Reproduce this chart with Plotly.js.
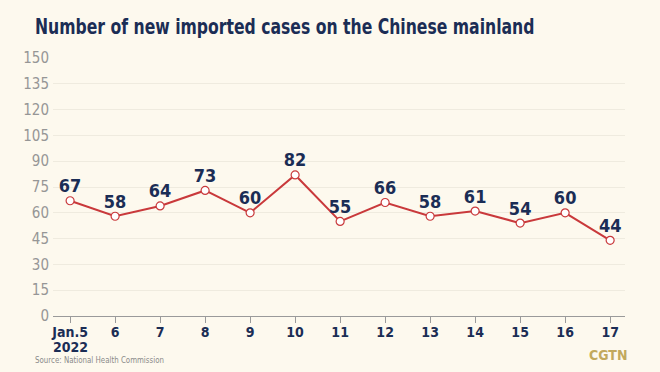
<!DOCTYPE html>
<html><head><meta charset="utf-8">
<script src="https://cdn.plot.ly/plotly-3.0.1.min.js"></script>
<style>html,body{margin:0;padding:0;background:#fdf9ee;}#chart{width:660px;height:372px;}</style>
</head><body><div id="chart"></div>
<script>
const categories = ["Jan.5","6","7","8","9","10","11","12","13","14","15","16","17"];
const yearLabel = "2022";
const newImportedCases = [67,58,64,73,60,82,55,66,58,61,54,60,44];
const yTickValues = [0,15,30,45,60,75,90,105,120,135,150];

const xIdx = categories.map((c,i)=>i);
const navy = "#1b2d55";
const cond = "'DejaVu Sans Condensed', sans-serif";
const PL = 53, PR = 625, PT = 58, PB = 316;
const px = v => (v - PL) / (PR - PL);
const py = v => (PB - v) / (PB - PT);
const trace = {
  x: xIdx, y: newImportedCases, type: "scatter", mode: "lines+markers+text",
  text: newImportedCases.map(String), textposition: "top center",
  textfont: {family: cond, size: 18, color: navy, weight: "bold"},
  line: {color: "#c9393b", width: 2},
  marker: {size: 8, color: "#ffffff", line: {color: "#c9393b", width: 1.2}},
  cliponaxis: false, hoverinfo: "none"
};
const layout = {
  width: 660, height: 372,
  paper_bgcolor: "#fdf9ee", plot_bgcolor: "#fdf9ee",
  margin: {l: PL, r: 660 - PR, t: PT, b: 372 - PB},
  showlegend: false,
  title: {text: "<b>Number of new imported cases on the Chinese mainland</b>",
    font: {family: cond, size: 21, color: navy},
    x: 35/660, xanchor: "left", xref: "container", y: 1 - 27/372, yanchor: "middle", yref: "container"},
  xaxis: {
    range: [-0.38, 12.33], tickvals: xIdx, ticktext: categories,
    showgrid: false, zeroline: false, showline: true, linecolor: "#9a9a9a", linewidth: 1,
    ticks: "outside", ticklen: 6, tickcolor: "#9a9a9a", ticklabelstandoff: -3,
    tickfont: {family: cond, size: 14, color: navy, weight: "bold"}
  },
  yaxis: {
    range: [0, 150], tickvals: yTickValues, showgrid: true, gridcolor: "#efebdf", gridwidth: 1,
    zeroline: false, showline: false, ticks: "", ticklabelstandoff: 3,
    tickfont: {family: cond, size: 15, color: "#969696"}
  },
  annotations: [
    {text: "<b>" + yearLabel + "</b>", xref: "x", yref: "paper", x: xIdx[0], y: py(347),
     xanchor: "center", yanchor: "middle", showarrow: false,
     font: {family: cond, size: 14, color: navy}},
    {text: "Source: National Health Commission", xref: "paper", yref: "paper",
     x: px(33), y: py(359), xanchor: "left", yanchor: "middle", showarrow: false,
     font: {family: cond, size: 9.5, color: "#8a8a8a"}},
    {text: "<b>CGTN</b>", xref: "paper", yref: "paper", x: px(629), y: py(355),
     xanchor: "right", yanchor: "middle", showarrow: false,
     font: {family: cond, size: 14, color: "#c2a95c"}}
  ]
};
function squeeze(t, targetW){
  if (!t || t.dataset.sq) return;
  const bb = t.getBBox(); const x0 = bb.x, s = Math.min(1, targetW / bb.width);
  const prev = t.getAttribute("transform") || "";
  t.setAttribute("transform", `${prev} translate(${x0} 0) scale(${s} 1) translate(${-x0} 0)`);
  t.dataset.sq = "1";
}
function post(){
  squeeze(document.querySelector("#chart .gtitle"), 500);
  document.querySelectorAll("#chart .annotation-text").forEach(t => {
    if (t.textContent.startsWith("Source")) squeeze(t, 129);
  });
  document.querySelectorAll("#chart .scatterlayer .textpoint text").forEach(t => {
    if (t.dataset.sh) return;
    t.setAttribute("y", parseFloat(t.getAttribute("y")) + 2);
    t.dataset.sh = "1";
  });
}
Plotly.newPlot("chart", [trace], layout, {displayModeBar: false, staticPlot: true}).then(post);
</script></body></html>
